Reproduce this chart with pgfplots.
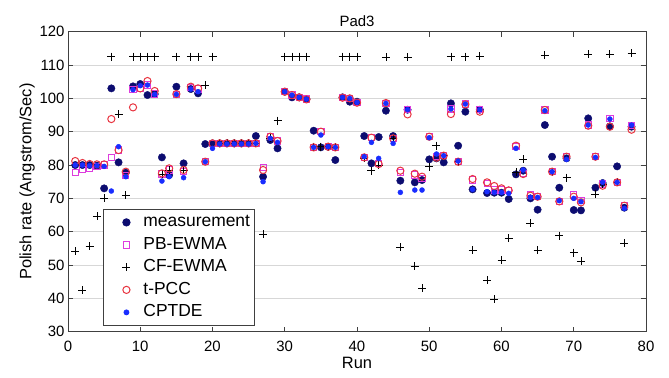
\documentclass[border=0pt]{standalone}
\usepackage{pgfplots}
\usepackage{pgfplotstable}
\pgfplotsset{compat=1.18}
\usepackage{fontspec}
\setmainfont{Liberation Sans}
\definecolor{meascol}{RGB}{12,12,112}
\definecolor{pbcol}{RGB}{222,60,222}
\definecolor{tpcccol}{RGB}{232,52,64}
\definecolor{cptcol}{RGB}{25,45,255}
\definecolor{gridcol}{RGB}{215,215,215}
\pgfplotstableread{
run meas pb cf tpcc cptde
1 80.0 77.8 54.2 81.2 80.0
2 80.0 78.6 42.5 80.6 80.0
3 80.0 79.0 55.7 80.3 79.8
4 79.8 79.6 64.7 80.2 79.8
5 73.0 80.0 70.0 80.2 79.6
6 103.0 82.3 112.5 93.8 72.2
7 80.8 84.5 95.2 84.5 85.5
8 77.7 76.8 71.0 78.0 76.5
9 103.6 102.6 112.5 97.3 102.6
10 104.3 103.0 112.5 103.0 103.8
11 101.0 104.0 112.5 105.2 104.0
12 101.3 101.3 112.5 102.2 101.2
13 82.3 77.3 77.3 77.5 75.2
14 77.0 78.5 78.5 79.0 76.5
15 103.5 101.2 112.5 101.3 101.2
16 80.5 78.0 78.5 78.5 76.2
17 102.8 103.3 112.5 103.5 102.8
18 101.5 102.8 112.5 103.0 102.0
19 86.3 81.0 104.0 81.0 81.0
20 86.5 86.5 112.5 86.5 85.0
21 86.5 86.5 86.5 86.5 86.3
22 86.5 86.5 86.5 86.5 86.3
23 86.5 86.5 86.5 86.5 86.3
24 86.5 86.5 86.5 86.5 86.3
25 86.5 86.5 86.5 86.5 86.3
26 88.7 86.5 86.5 86.5 86.5
27 76.5 79.2 59.2 78.5 75.0
28 87.5 88.5 88.0 88.5 88.0
29 85.0 87.2 93.3 87.2 86.8
30 102.0 102.0 112.5 102.0 102.0
31 100.3 101.0 112.5 101.0 101.0
32 100.3 100.3 112.5 100.3 100.3
33 99.8 99.8 112.5 99.7 99.8
34 90.3 85.3 85.5 85.3 85.3
35 85.3 90.0 85.5 90.0 89.0
36 85.5 85.5 85.5 85.5 85.5
37 81.5 85.3 85.3 85.3 85.3
38 100.3 100.3 112.5 100.2 100.3
39 99.0 100.0 112.5 100.0 100.0
40 99.0 98.7 112.5 98.7 98.8
41 88.7 82.3 82.0 82.3 82.5
42 80.5 88.2 78.3 88.2 86.8
43 88.4 80.5 80.0 80.3 82.0
44 96.3 98.5 112.3 98.6 98.5
45 88.7 88.0 88.0 88.0 86.5
46 75.3 77.8 55.3 78.3 71.8
47 96.6 96.6 112.3 95.2 96.6
48 74.8 77.0 49.6 77.4 72.5
49 75.5 76.0 43.0 76.5 72.5
50 81.7 88.5 79.5 88.5 88.2
51 82.0 82.5 85.8 82.2 83.3
52 80.8 82.8 82.8 82.8 82.8
53 98.5 96.8 112.5 95.3 96.8
54 85.8 81.0 81.0 81.0 81.2
55 96.0 98.3 112.5 98.2 98.3
56 72.7 75.5 54.5 75.8 72.7
57 96.6 96.6 112.6 96.0 96.6
58 71.6 74.5 45.5 74.8 72.0
59 71.7 72.5 39.7 73.7 71.8
60 71.7 72.5 51.5 73.0 71.8
61 69.8 72.3 58.0 72.4 71.5
62 77.2 85.5 77.8 85.8 85.0
63 78.3 77.5 81.7 77.3 78.5
64 70.0 71.0 62.5 70.8 70.3
65 66.6 70.5 54.5 70.5 70.3
66 92.0 96.5 113.0 96.5 96.3
67 82.5 78.0 78.0 78.0 78.0
68 73.2 69.1 58.8 69.1 69.3
69 82.0 82.5 76.2 82.5 81.7
70 66.5 71.0 53.7 70.5 70.0
71 66.4 69.3 51.2 68.8 69.0
72 94.0 92.0 113.2 91.8 92.0
73 73.2 82.5 71.3 82.5 82.3
74 74.6 74.3 74.3 73.8 74.8
75 91.6 94.0 113.3 91.5 93.8
76 79.6 74.8 74.8 74.8 74.8
77 67.2 67.9 56.5 67.8 67.0
78 91.5 91.8 113.5 90.6 92.0
}\datatable
\begin{document}
\begin{tikzpicture}
\begin{axis}[
  scale only axis,
  width=578bp, height=300bp,
  xmin=0, xmax=80, ymin=30, ymax=120,
  xtick={0,10,...,80}, ytick={30,40,...,120},
  tick align=inside, tick pos=both,
  major tick length=5bp,
  ymajorgrids, grid style={gridcol, line width=0.6pt},
  axis line style={line width=0.8pt, black!75},
  every tick/.style={black!75, line width=0.6pt},
  /pgf/number format/assume math mode=true,
  tick label style={font=\fontsize{15}{17}\selectfont},
  xticklabel style={yshift=-6bp},
  xlabel={Run}, ylabel={Polish rate (Angstrom/Sec)},
  label style={font=\fontsize{16.5}{18}\selectfont},
  xlabel style={yshift=1bp},
  ylabel style={yshift=-2bp},
  title={Pad3}, title style={font=\fontsize{15}{17}\selectfont, yshift=-4bp},
  legend cell align=left,
  legend image code/.code={\path[draw=none,fill=none] (-20bp,0bp) -- (16bp,0bp); \draw[#1] plot coordinates {(0bp,0bp)};},
  legend style={at={(axis cs:4.85,31.7)}, anchor=south west,
    font=\fontsize{17.5}{19}\selectfont, draw=black!75, line width=0.8pt,
    inner xsep=3bp, inner ysep=3bp, row sep=2bp,
    nodes={inner ysep=2.5bp, inner xsep=1bp, text height=12bp, text depth=3.5bp}},
]
\addplot[only marks, mark=*, mark size=3.7bp, draw=meascol, fill=meascol] table[x=run, y=meas] {\datatable};
\addlegendentry{measurement}
\addplot[only marks, mark=square, mark size=3.1bp, draw=pbcol, line width=0.9pt] table[x=run, y=pb] {\datatable};
\addlegendentry{PB-EWMA}
\addplot[only marks, mark=+, mark size=4bp, draw=black, line width=0.8pt] table[x=run, y=cf] {\datatable};
\addlegendentry{CF-EWMA}
\addplot[only marks, mark=o, mark size=3.6bp, draw=tpcccol, line width=1pt] table[x=run, y=tpcc] {\datatable};
\addlegendentry{t-PCC}
\addplot[only marks, mark=*, mark size=2.5bp, draw=cptcol, fill=cptcol] table[x=run, y=cptde] {\datatable};
\addlegendentry{CPTDE}
\end{axis}
\pgfresetboundingbox
\path (current axis.south west) ++(-68bp,-46.3bp) coordinate (bbsw);
\path (current axis.north east) ++(23bp,31.7bp) coordinate (bbne);
\useasboundingbox (bbsw) rectangle (bbne);
\end{tikzpicture}
\end{document}
